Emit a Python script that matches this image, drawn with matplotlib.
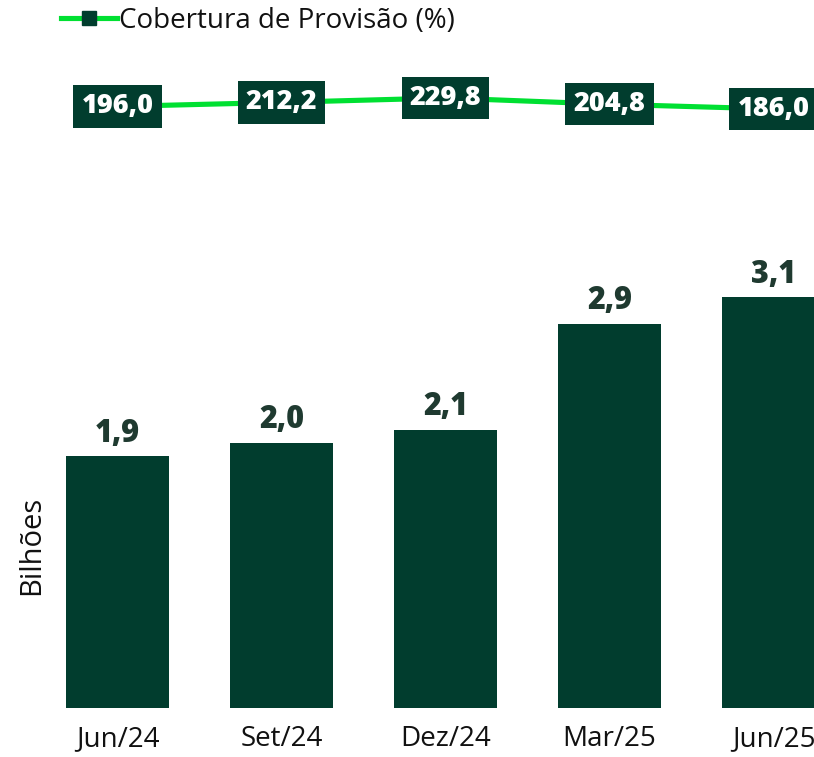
import matplotlib.pyplot as plt
import numpy as np

# dados
periodos = ['Jun/24', 'Set/24', 'Dez/24', 'Mar/25', 'Jun/25']
carteira = [1.9, 2.0, 2.1, 2.9, 3.1]
cobertura = [196.0, 212.2, 229.8, 204.8, 186.0]

verde_escuro = '#013d2e'
verde_claro = '#00e032'
texto_rotulo = '#1f3a30'

plt.rcParams['font.family'] = ['Open Sans', 'DejaVu Sans']

fig = plt.figure(figsize=(8.14, 7.57), dpi=100)
ax = fig.add_axes([0, 49 / 757, 1, 708 / 757])
x = np.arange(len(periodos))

ax.bar(x, carteira, width=0.63, color=verde_escuro, zorder=2)
for xi, v in zip(x, carteira):
    ax.text(xi, v + 0.05, f'{v:.1f}'.replace('.', ','), ha='center', va='bottom',
            fontsize=22, fontweight='heavy', color=texto_rotulo)

ax.set_xlim(-117.5 / 164, (814 - 117.5) / 164)
ax.set_ylim(0, 708 / 132.5)
ax.set_xticks(x)
ax.set_xticklabels(periodos, fontsize=20, color='#111111')
ax.tick_params(axis='x', length=0, pad=12)
ax.set_yticks([])
for s in ax.spines.values():
    s.set_visible(False)
ax.set_ylabel('Bilhões', fontsize=21, color='#111111')
ax.yaxis.set_label_coords(46 / 814, (708 - 545) / 708)

ax2 = ax.twinx()
ax2.set_ylim(-2200, 620)
ax2.set_yticks([])
for s in ax2.spines.values():
    s.set_visible(False)
ax2.plot(x, cobertura, color=verde_claro, lw=3.7, marker='s', markersize=10,
         markerfacecolor=verde_escuro, markeredgecolor=verde_escuro,
         label='Cobertura de Provisão (%)', zorder=3)
for xi, v in zip(x, cobertura):
    ax2.text(xi, v, f'{v:.1f}'.replace('.', ','), ha='center', va='center',
             fontsize=19.5, fontweight='heavy', color='white', zorder=4,
             bbox=dict(boxstyle='square,pad=0.3', facecolor=verde_escuro,
                       edgecolor='none'))

leg = ax2.legend(loc='center left', bbox_to_anchor=(50 / 814, 1 - 21 / 708),
                 frameon=False, fontsize=20, handlelength=2.0,
                 handletextpad=0.1, borderaxespad=0)
for t in leg.get_texts():
    t.set_color('#111111')

fig.savefig('out.png', dpi=100)
